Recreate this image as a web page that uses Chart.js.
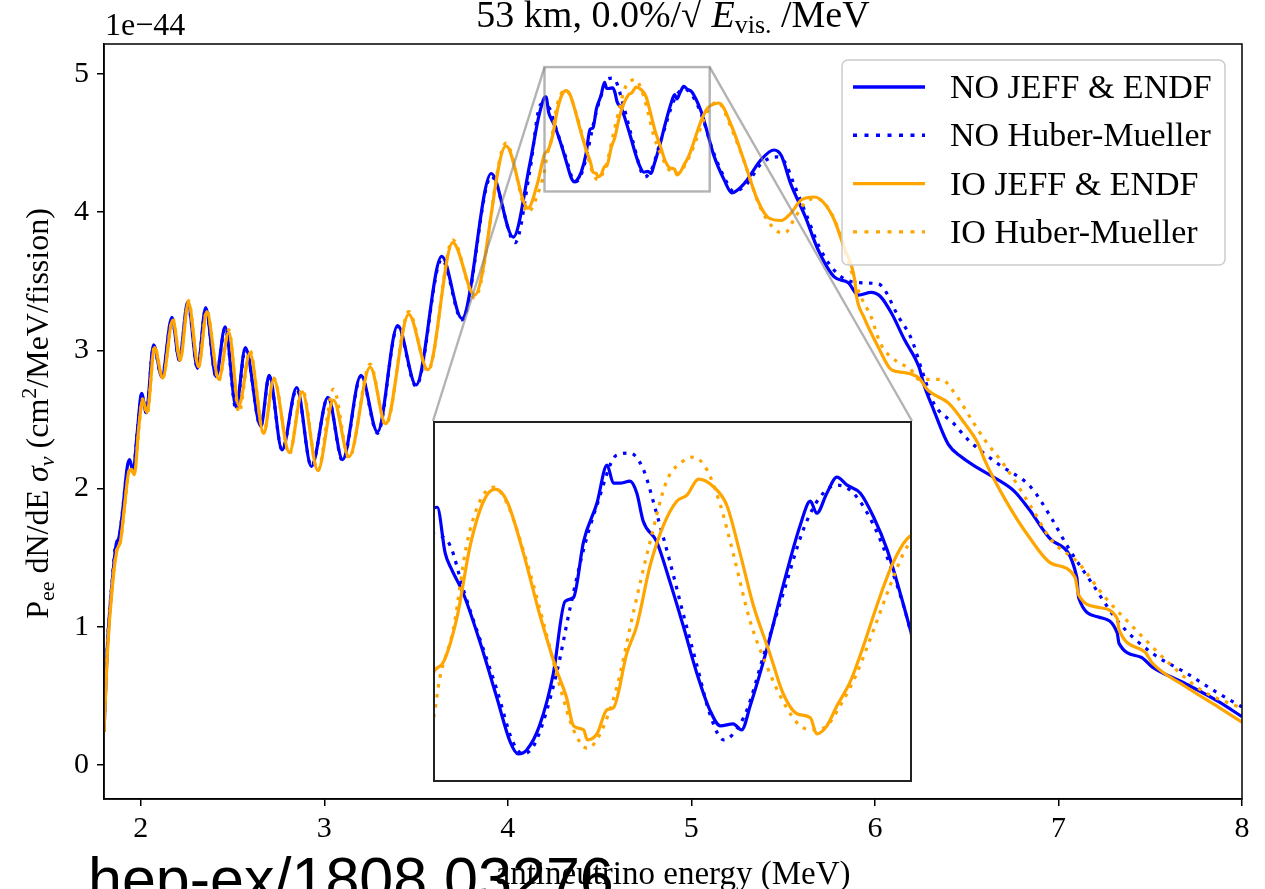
<!DOCTYPE html>
<html lang="en">
<head>
<meta charset="UTF-8">
<title>Pee spectrum, 53 km</title>
<script src="https://cdn.jsdelivr.net/npm/chart.js"></script>
<style>
    body { margin: 0; background: #fff; }
    #wrap { position: relative; width: 1265px; height: 889px; overflow: hidden; background: #fff; }
    #main { position: absolute; left: 0; top: 0; }
    #zoomBox { position: absolute; left: 433px; top: 421px; width: 479px; height: 361px; background: #fff; }
</style>
</head>
<body>
<div id="wrap">
    <canvas id="main" width="1265" height="889"></canvas>
    <div id="zoomBox"><canvas id="zoom" width="479" height="361"></canvas></div>
</div>
<script>
// spectra in units of 1e-44 cm^2/MeV/fission vs antineutrino energy (MeV)
const noJeffE = [1.80,1.818,1.846,1.864,1.882,1.90,1.927,1.94,1.958,1.982,
    2.005,2.03,2.07,2.115,2.17,2.21,2.256,2.31,2.354,2.41,
    2.46,2.52,2.57,2.654,2.70,2.77,2.85,2.93,3.02,3.10,
    3.20,3.29,3.40,3.50,3.64,3.75,3.91,4.03,4.12,4.17,
    4.200,4.208,4.223,4.235,4.257,4.288,4.32,4.345,4.36,4.376,
    4.40,4.426,4.448,4.464,4.483,4.508,4.527,4.539,4.551,4.57,
    4.583,4.595,4.62,4.645,4.67,4.696,4.72,4.74,4.764,4.78,
    4.796,4.827,4.858,4.89,4.909,4.921,4.94,4.959,4.978,5.003,
    5.028,5.053,5.078,5.103,5.12,5.18,5.22,5.29,5.38,5.45,
    5.49,5.54,5.62,5.69,5.78,5.855,5.91,5.98,6.03,6.09,
    6.16,6.24,6.27,6.32,6.40,6.47,6.56,6.65,6.76,6.84,
    6.96,7.10,7.11,7.22,7.32,7.33,7.45,7.51,7.69,7.87,8.00];
const noJeffV = [0.24,0.85,1.34,1.58,1.65,1.82,2.16,2.21,2.12,2.42,
    2.69,2.55,3.04,2.81,3.24,2.93,3.35,2.87,3.31,2.81,
    3.17,2.59,3.02,2.45,2.82,2.28,2.73,2.16,2.66,2.21,
    2.82,2.41,3.18,2.75,3.68,3.23,4.28,3.82,4.35,4.70,
    4.83,4.835,4.72,4.68,4.62,4.50,4.36,4.25,4.22,4.23,
    4.29,4.42,4.60,4.61,4.75,4.845,4.94,4.895,4.895,4.90,
    4.87,4.80,4.75,4.65,4.54,4.42,4.33,4.29,4.295,4.28,
    4.34,4.48,4.64,4.79,4.85,4.82,4.87,4.91,4.89,4.87,
    4.81,4.73,4.62,4.50,4.42,4.23,4.14,4.21,4.38,4.45,
    4.41,4.21,3.97,3.73,3.53,3.49,3.40,3.42,3.39,3.27,
    3.08,2.88,2.74,2.57,2.32,2.23,2.15,2.08,1.98,1.85,
    1.63,1.36,1.21,1.07,0.955,0.88,0.78,0.71,0.59,0.46,0.35];

const noHmE = [1.80,1.818,1.846,1.864,1.882,1.90,1.927,1.94,1.958,1.982,
    2.005,2.03,2.07,2.115,2.17,2.21,2.256,2.31,2.354,2.41,
    2.46,2.52,2.57,2.654,2.70,2.77,2.85,2.93,3.02,3.10,
    3.20,3.29,3.40,3.50,3.64,3.75,3.91,4.04,4.12,4.18,
    4.20,4.232,4.257,4.32,4.35,4.37,4.393,4.432,4.457,4.483,
    4.508,4.545,4.57,4.595,4.62,4.645,4.67,4.696,4.72,4.746,
    4.764,4.79,4.82,4.858,4.896,4.927,4.959,4.99,5.028,5.059,
    5.084,5.103,5.13,5.18,5.23,5.30,5.38,5.47,5.51,5.56,
    5.63,5.70,5.80,5.91,6.02,6.13,6.20,6.26,6.32,6.43,6.51,
    6.67,6.85,6.96,7.05,7.18,7.33,7.51,7.69,7.87,8.00];
const noHmV = [0.24,0.86,1.36,1.60,1.64,1.83,2.15,2.20,2.12,2.42,
    2.68,2.55,3.03,2.81,3.23,2.93,3.34,2.87,3.30,2.81,
    3.16,2.57,3.01,2.45,2.81,2.28,2.72,2.16,2.66,2.20,
    2.81,2.40,3.17,2.74,3.66,3.22,4.26,3.78,4.30,4.78,
    4.77,4.74,4.63,4.38,4.25,4.22,4.25,4.42,4.58,4.73,
    4.84,4.965,4.97,4.93,4.82,4.70,4.57,4.44,4.32,4.255,
    4.27,4.33,4.46,4.62,4.78,4.86,4.89,4.87,4.79,4.69,
    4.59,4.50,4.40,4.25,4.15,4.20,4.35,4.40,4.36,4.20,
    3.97,3.74,3.55,3.49,3.48,3.24,3.08,2.84,2.62,2.47,2.35,
    2.18,2.01,1.79,1.58,1.32,1.03,0.81,0.67,0.52,0.42];

const ioJeffE = [1.80,1.818,1.846,1.87,1.89,1.91,1.935,1.95,1.965,1.99,
    2.01,2.035,2.075,2.12,2.175,2.215,2.26,2.315,2.36,2.425,
    2.48,2.535,2.595,2.67,2.725,2.81,2.88,2.965,3.05,3.135,
    3.25,3.335,3.46,3.565,3.70,3.82,3.99,4.11,4.16,
    4.20,4.22,4.245,4.27,4.295,4.317,4.339,4.37,4.40,4.432,
    4.451,4.464,4.483,4.49,4.508,4.527,4.539,4.564,4.583,4.608,
    4.633,4.658,4.677,4.699,4.727,4.752,4.777,4.802,4.833,4.858,
    4.884,4.909,4.921,4.94,4.959,4.984,5.009,5.034,5.059,5.084,5.103,
    5.15,5.22,5.29,5.36,5.42,5.49,5.54,5.60,5.67,5.72,
    5.78,5.83,5.89,5.90,5.94,6.02,6.09,6.16,6.24,6.29,
    6.40,6.49,6.56,6.60,6.71,6.84,6.96,7.09,7.11,7.22,
    7.32,7.33,7.47,7.51,7.69,7.87,8.00];
const ioJeffV = [0.24,0.80,1.30,1.55,1.62,1.85,2.12,2.14,2.10,2.45,
    2.64,2.55,3.02,2.80,3.22,2.93,3.35,2.88,3.28,2.79,
    3.13,2.60,2.98,2.40,2.79,2.26,2.70,2.13,2.64,2.23,
    2.88,2.47,3.26,2.86,3.78,3.40,4.48,4.03,4.20,
    4.42,4.45,4.56,4.74,4.85,4.88,4.85,4.72,4.57,4.43,
    4.36,4.29,4.28,4.255,4.27,4.33,4.335,4.47,4.54,4.69,
    4.79,4.85,4.865,4.905,4.886,4.84,4.72,4.59,4.47,4.37,
    4.32,4.31,4.27,4.29,4.34,4.40,4.49,4.59,4.68,4.745,4.77,
    4.79,4.62,4.36,4.09,3.96,3.94,3.99,4.09,4.11,4.07,
    3.94,3.75,3.51,3.39,3.24,3.02,2.86,2.84,2.80,2.71,
    2.62,2.47,2.33,2.20,1.92,1.65,1.46,1.36,1.23,1.14,
    1.06,0.98,0.82,0.74,0.57,0.42,0.31];

const ioHmE = [1.80,1.818,1.846,1.87,1.89,1.91,1.935,1.95,1.965,1.99,
    2.01,2.035,2.075,2.12,2.175,2.215,2.26,2.315,2.36,2.425,
    2.48,2.535,2.595,2.67,2.725,2.81,2.88,2.965,3.05,3.135,
    3.25,3.335,3.46,3.565,3.70,3.82,3.99,4.11,4.16,
    4.20,4.213,4.238,4.263,4.288,4.314,4.339,4.376,4.407,4.438,
    4.464,4.49,4.514,4.545,4.576,4.608,4.639,4.67,4.689,4.714,
    4.74,4.764,4.796,4.827,4.858,4.89,4.915,4.94,4.965,4.996,
    5.028,5.059,5.084,5.103,
    5.14,5.22,5.30,5.37,5.46,5.51,5.56,5.62,5.68,5.74,
    5.80,5.86,5.92,5.98,6.03,6.13,6.19,6.24,6.36,6.45,
    6.54,6.60,6.71,6.85,6.96,7.11,7.25,7.42,7.60,7.78,8.00];
const ioHmV = [0.24,0.82,1.32,1.56,1.62,1.84,2.12,2.15,2.10,2.44,
    2.65,2.54,3.03,2.80,3.23,2.93,3.36,2.88,3.29,2.78,
    3.15,2.55,3.00,2.40,2.80,2.25,2.72,2.13,2.72,2.22,
    2.90,2.46,3.28,2.85,3.80,3.38,4.50,4.00,4.12,
    4.30,4.41,4.53,4.74,4.85,4.885,4.845,4.70,4.55,4.39,
    4.28,4.234,4.27,4.385,4.57,4.75,4.90,4.95,4.96,4.93,
    4.84,4.72,4.55,4.44,4.35,4.29,4.28,4.29,4.34,4.42,
    4.53,4.64,4.72,4.76,
    4.80,4.60,4.32,4.05,3.87,3.85,3.95,4.07,4.10,4.04,
    3.88,3.62,3.40,3.24,3.05,2.91,2.87,2.79,2.79,2.66,
    2.47,2.35,2.16,1.87,1.63,1.46,1.22,0.98,0.74,0.54,0.41];

const seriesNames = ['NO JEFF & ENDF', 'NO Huber-Mueller', 'IO JEFF & ENDF', 'IO Huber-Mueller'];
const xTicks = [2, 3, 4, 5, 6, 7, 8];
const yTicks = [0, 1, 2, 3, 4, 5];
const zoomE = [4.2, 5.1];
const zoomV = [4.15, 5.05];

const BLUE = '#0000ff';
const ORANGE = '#ffa500';
const SERIF = '"Liberation Serif", "DejaVu Serif", serif';
const DOTS = [3.5, 6.5];

function pts(xs, ys) {
    let out = [];
    for (let i = 0; i < Math.min(xs.length, ys.length); i++) out.push({ x: xs[i], y: ys[i] });
    return out;
}

function makeSets() {
    let sets = [
        { label: seriesNames[0], data: pts(noJeffE, noJeffV), borderColor: BLUE, order: 4 },
        { label: seriesNames[1], data: pts(noHmE, noHmV), borderColor: BLUE, borderDash: DOTS, order: 3 },
        { label: seriesNames[2], data: pts(ioJeffE, ioJeffV), borderColor: ORANGE, order: 2 },
        { label: seriesNames[3], data: pts(ioHmE, ioHmV), borderColor: ORANGE, borderDash: DOTS, order: 1 }
    ];
    return sets.map(d => Object.assign({
        pointRadius: 0, borderWidth: 3.2, fill: false, cubicInterpolationMode: 'monotone'
    }, d));
}

// text made of pieces with sub/superscripts, centred on x
function richText(ctx, parts, x, y) {
    let total = 0;
    parts.forEach(p => {
        ctx.font = (p.italic ? 'italic ' : '') + p.size + 'px ' + SERIF;
        p.w = ctx.measureText(p.t).width;
        total += p.w;
    });
    let cx = x - total / 2;
    parts.forEach(p => {
        ctx.font = (p.italic ? 'italic ' : '') + p.size + 'px ' + SERIF;
        ctx.fillText(p.t, cx, y + (p.dy || 0));
        cx += p.w;
    });
}

const decor = {
    id: 'decor',
    afterDatasetsDraw(chart) {
        const ctx = chart.ctx;
        const xs = chart.scales.x, ys = chart.scales.y;
        const box = document.getElementById('zoomBox');
        const l = xs.getPixelForValue(zoomE[0]), r = xs.getPixelForValue(zoomE[1]);
        const t = ys.getPixelForValue(zoomV[1]), b = ys.getPixelForValue(zoomV[0]);
        ctx.save();
        ctx.strokeStyle = 'rgba(128,128,128,0.6)';
        ctx.lineWidth = 2.4;
        ctx.strokeRect(l, t, r - l, b - t);
        ctx.beginPath();
        ctx.moveTo(l, t);
        ctx.lineTo(box.offsetLeft, box.offsetTop);
        ctx.moveTo(r, t);
        ctx.lineTo(box.offsetLeft + box.offsetWidth, box.offsetTop);
        ctx.stroke();
        ctx.restore();
    },
    afterDraw(chart) {
        const ctx = chart.ctx;
        const a = chart.chartArea;
        ctx.save();
        // frame
        ctx.strokeStyle = '#000';
        ctx.lineWidth = 1.5;
        ctx.strokeRect(a.left, a.top, a.right - a.left, a.bottom - a.top);

        // legend
        const lx = 842, ly = 60, lw = 383, lh = 205;
        ctx.beginPath();
        ctx.roundRect(lx, ly, lw, lh, 6);
        ctx.fillStyle = 'rgba(255,255,255,0.8)';
        ctx.fill();
        ctx.strokeStyle = '#cccccc';
        ctx.lineWidth = 1.5;
        ctx.stroke();
        chart.data.datasets.forEach((ds, i) => {
            const ry = 87 + i * 48.3;
            ctx.beginPath();
            ctx.setLineDash(ds.borderDash ? [4, 7.5] : []);
            ctx.strokeStyle = ds.borderColor;
            ctx.lineWidth = 3.4;
            ctx.moveTo(853, ry);
            ctx.lineTo(925, ry);
            ctx.stroke();
            ctx.setLineDash([]);
            ctx.fillStyle = '#000';
            ctx.font = '34px ' + SERIF;
            ctx.textBaseline = 'alphabetic';
            ctx.fillText(ds.label, 950, ry + 11);
        });

        ctx.fillStyle = '#000';
        ctx.strokeStyle = '#000';
        ctx.textBaseline = 'alphabetic';
        // offset text
        ctx.font = '32px ' + SERIF;
        ctx.textAlign = 'left';
        ctx.fillText('1e\u221244', 105, 35);

        // title
        const cx = (a.left + a.right) / 2;
        richText(ctx, [
            { t: '53 km, 0.0%/', size: 38 },
            { t: '\u221A', size: 38 },
            { t: ' E', size: 38, italic: true },
            { t: 'vis.', size: 26, dy: 6 },
            { t: ' /MeV', size: 38 }
        ], cx, 27);

        // x axis title
        ctx.font = '33px ' + SERIF;
        ctx.textAlign = 'left';
        richText(ctx, [{ t: 'antineutrino energy (MeV)', size: 33 }], cx, 884);

        // y axis title
        ctx.save();
        ctx.translate(48, (a.top + a.bottom) / 2 - 8);
        ctx.rotate(-Math.PI / 2);
        richText(ctx, [
            { t: 'P', size: 32 },
            { t: 'ee', size: 22, dy: 6 },
            { t: ' dN/dE ', size: 32 },
            { t: '\u03C3', size: 32, italic: true },
            { t: '\u03BD', size: 22, italic: true, dy: 6 },
            { t: ' (cm', size: 32 },
            { t: '2', size: 22, dy: -12 },
            { t: '/MeV/fission)', size: 32 }
        ], 0, 0);
        ctx.restore();

        // reference tag
        ctx.font = '61px "Liberation Sans", Arial, sans-serif';
        ctx.textAlign = 'left';
        ctx.fillStyle = '#000';
        ctx.fillText('hep-ex/1808.03276', 88, 900);
        ctx.restore();
    }
};

const frame = {
    id: 'frame',
    afterDraw(chart) {
        const ctx = chart.ctx;
        ctx.save();
        ctx.strokeStyle = '#222';
        ctx.lineWidth = 2;
        ctx.strokeRect(1, 1, chart.width - 2, chart.height - 2);
        ctx.restore();
    }
};

const axisStyle = {
    type: 'linear',
    grid: { display: true, drawOnChartArea: false, drawTicks: true, tickLength: 7, color: '#000', lineWidth: 1.5 },
    border: { display: true, color: '#000', width: 1.5 },
    ticks: { color: '#000', font: { family: SERIF, size: 30 }, padding: 6 }
};

new Chart(document.getElementById('main'), {
    type: 'line',
    data: { datasets: makeSets() },
    options: {
        responsive: false,
        animation: false,
        layout: { padding: { top: 44, right: 23, left: 0, bottom: 0 } },
        plugins: { legend: { display: false }, tooltip: { enabled: false } },
        scales: {
            x: Object.assign({}, axisStyle, {
                min: 1.8, max: 8,
                afterBuildTicks: s => { s.ticks = xTicks.map(v => ({ value: v })); },
                afterFit: s => { s.height = 90; },
                ticks: Object.assign({}, axisStyle.ticks, { padding: 5, maxRotation: 0 })
            }),
            y: Object.assign({}, axisStyle, {
                min: -0.246, max: 5.217,
                afterBuildTicks: s => { s.ticks = yTicks.map(v => ({ value: v })); },
                afterFit: s => { s.width = 104; },
                ticks: Object.assign({}, axisStyle.ticks, { padding: 8 })
            })
        }
    },
    plugins: [decor]
});

new Chart(document.getElementById('zoom'), {
    type: 'line',
    data: { datasets: makeSets() },
    options: {
        responsive: false,
        animation: false,
        layout: { padding: 0 },
        plugins: { legend: { display: false }, tooltip: { enabled: false } },
        scales: {
            x: { type: 'linear', display: false, min: zoomE[0], max: zoomE[1] },
            y: { type: 'linear', display: false, min: zoomV[0], max: zoomV[1] }
        }
    },
    plugins: [frame]
});
</script>
</body>
</html>
